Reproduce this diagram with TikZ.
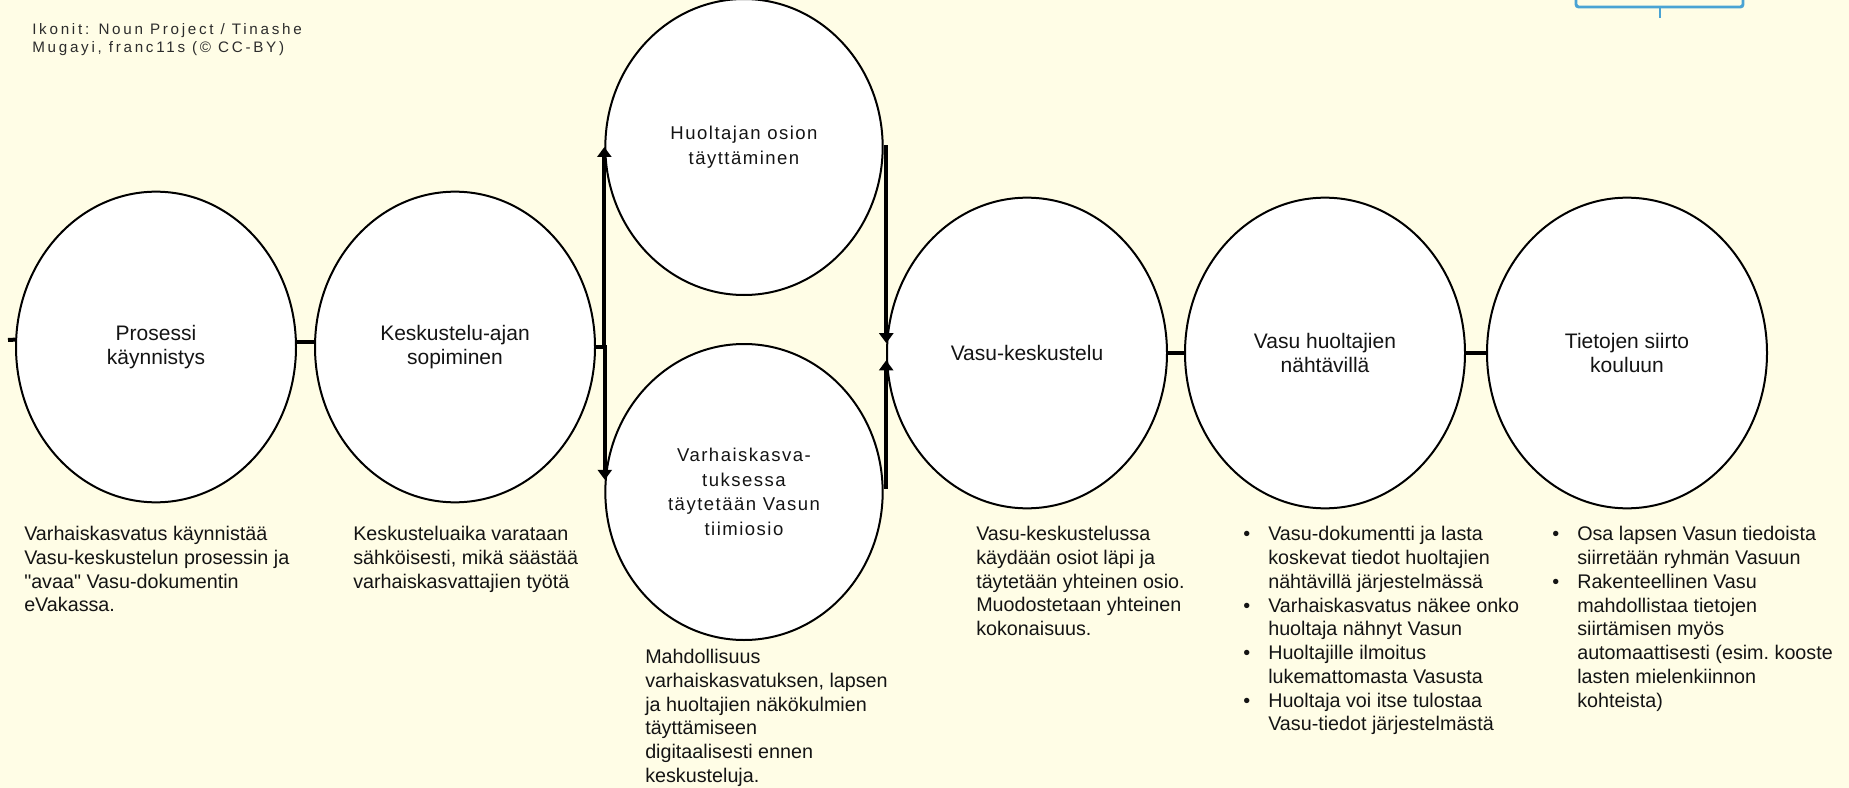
\documentclass[tikz,border=0pt]{standalone}
\usepackage{fontspec}
\setmainfont{Liberation Sans}[Ligatures=TeXOff]
\usetikzlibrary{arrows.meta,shapes.geometric}
\definecolor{bg}{RGB}{255,253,230}
\definecolor{iconblue}{RGB}{74,163,212}
\definecolor{ink}{RGB}{20,20,20}
\begin{document}
\begin{tikzpicture}[x=0.75pt, y=-0.75pt,
  stage/.style={ellipse, draw=black, fill=white, line width=1.5pt,
    minimum width=210pt, minimum height=233pt,
    inner sep=0pt, align=center, text=ink, font=\fontsize{15.75pt}{17.5pt}\selectfont},
  side/.style={minimum width=208pt, minimum height=222pt,
    font={\fontsize{13.9pt}{18.4pt}\selectfont\addfontfeature{LetterSpace=8}}},
  link/.style={line width=3pt},
  arr/.style={line width=3pt, -{Triangle[length=7.5pt,width=10.5pt]}},
  body/.style={anchor=north west, inner sep=0pt, align=left, text=ink,
    font=\fontsize{14.8pt}{17.8pt}\selectfont},
]
\useasboundingbox[fill=bg] (0,0) rectangle (1849,788);

% credit text
\node[anchor=north west, inner sep=0pt, align=left, text=ink!90,
  font={\fontsize{11.4pt}{13.5pt}\selectfont\addfontfeature{LetterSpace=18}}]
  (credit) at (32,23) {Ikonit: Noun Project / Tinashe\\Mugayi, franc11s (© CC-BY)};

% icon frame (top right, cut off)
\draw[iconblue, line width=2.2pt, rounded corners=2pt]
  (1576,-6) -- (1576,7) -- (1743,7) -- (1743,-6);
\draw[iconblue, line width=2.2pt] (1660,7) -- (1660,18);

% stages
\node[stage] (c1) at (156,347) {Prosessi\\käynnistys};
\node[stage] (c2) at (455,347) {Keskustelu-ajan\\sopiminen};
\node[stage, side] (c3) at (744,147) {Huoltajan osion\\täyttäminen};
\node[stage, side] (c4) at (744,492) {Varhaiskasva-\\tuksessa\\täytetään Vasun\\tiimiosio};
\node[stage] (c5) at (1027,353) {Vasu-keskustelu};
\node[stage] (c6) at (1325,353) {Vasu huoltajien\\nähtävillä};
\node[stage] (c7) at (1627,353) {Tietojen siirto\\kouluun};

% connectors
\coordinate (s0) at (8,340);
\draw[link] (c1.177) -- (s0);
\draw[link] (c1.2) -- (c2.178);
\draw[arr] (c2.east) -| (c3.west);
\draw[arr] (c2.east) -| (c4.175);
\draw[arr] (c3.east) -| (c5.176);
\draw[arr] (c4.2) -| (c5.183);
\draw[link] (c5.east) -- (c6.west);
\draw[link] (c6.east) -- (c7.west);

% descriptions
\node[body] (t1) at (24,526) {Varhaiskasvatus käynnistää\\Vasu-keskustelun prosessin ja\\"avaa" Vasu-dokumentin\\eVakassa.};
\node[body] (t2) at (353,526) {Keskusteluaika varataan\\sähköisesti, mikä säästää\\varhaiskasvattajien työtä};
\node[body] (t4) at (645,649) {Mahdollisuus\\varhaiskasvatuksen, lapsen\\ja huoltajien näkökulmien\\täyttämiseen\\digitaalisesti ennen\\keskusteluja.};
\node[body] (t5) at (976,526) {Vasu-keskustelussa\\käydään osiot läpi ja\\täytetään yhteinen osio.\\Muodostetaan yhteinen\\kokonaisuus.};
\node[body] (t6) at (1243,524) {\begin{tabular}{@{}p{18.75pt}@{}l@{}}
\textbullet & Vasu-dokumentti ja lasta\\
 & koskevat tiedot huoltajien\\
 & nähtävillä järjestelmässä\\
\textbullet & Varhaiskasvatus näkee onko\\
 & huoltaja nähnyt Vasun\\
\textbullet & Huoltajille ilmoitus\\
 & lukemattomasta Vasusta\\
\textbullet & Huoltaja voi itse tulostaa\\
 & Vasu-tiedot järjestelmästä
\end{tabular}};
\node[body] (t7) at (1552,524) {\begin{tabular}{@{}p{18.75pt}@{}l@{}}
\textbullet & Osa lapsen Vasun tiedoista\\
 & siirretään ryhmän Vasuun\\
\textbullet & Rakenteellinen Vasu\\
 & mahdollistaa tietojen\\
 & siirtämisen myös\\
 & automaattisesti (esim.\ kooste\\
 & lasten mielenkiinnon\\
 & kohteista)
\end{tabular}};
\end{tikzpicture}
\end{document}
